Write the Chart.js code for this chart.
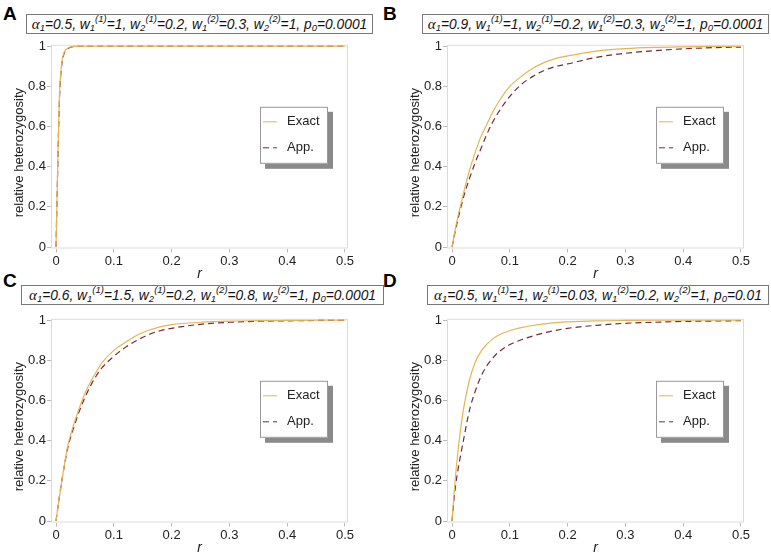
<!DOCTYPE html>
<html>
<head>
<meta charset="utf-8">
<script src="https://cdn.jsdelivr.net/npm/chart.js@4.4.1/dist/chart.umd.min.js"></script>
<style>
  body { margin: 0; background: #fff; }
  #wrap { position: relative; width: 771px; height: 558px; overflow: hidden; font-family: "Liberation Sans", Arial, sans-serif; }
  .letter { position: absolute; font-weight: bold; font-size: 19px; line-height: 19px; color: #000; }
  .ptitle { position: absolute; height: 18px; border: 1px solid #777; background: #fff;
            font-style: italic; font-size: 13.8px; color: #111; display: flex; align-items: center; justify-content: center; white-space: nowrap; }
  .ptitle .al { font-family: "Liberation Serif", serif; font-size: 15px; }
  .ptitle sub, .ptitle sup { font-size: 9.5px; position: relative; vertical-align: baseline; }
  .ptitle sub { top: 3px; }
  .ptitle sup { top: -6px; }
  canvas { position: absolute; }
</style>
</head>
<body>
<div id="wrap">
  <div class="letter" style="left:3px;top:4px;">A</div>
  <div class="letter" style="left:383px;top:4px;">B</div>
  <div class="letter" style="left:3px;top:271px;">C</div>
  <div class="letter" style="left:383px;top:271px;">D</div>

  <div class="ptitle" style="left:26px;top:14px;width:345px;"><span class="al">α</span><sub>1</sub>=0.5, w<sub>1</sub><sup>(1)</sup>=1, w<sub>2</sub><sup>(1)</sup>=0.2, w<sub>1</sub><sup>(2)</sup>=0.3, w<sub>2</sub><sup>(2)</sup>=1, p<sub>0</sub>=0.0001</div>
  <div class="ptitle" style="left:422px;top:14px;width:345px;"><span class="al">α</span><sub>1</sub>=0.9, w<sub>1</sub><sup>(1)</sup>=1, w<sub>2</sub><sup>(1)</sup>=0.2, w<sub>1</sub><sup>(2)</sup>=0.3, w<sub>2</sub><sup>(2)</sup>=1, p<sub>0</sub>=0.0001</div>
  <div class="ptitle" style="left:21px;top:285px;width:361px;"><span class="al">α</span><sub>1</sub>=0.6, w<sub>1</sub><sup>(1)</sup>=1.5, w<sub>2</sub><sup>(1)</sup>=0.2, w<sub>1</sub><sup>(2)</sup>=0.8, w<sub>2</sub><sup>(2)</sup>=1, p<sub>0</sub>=0.0001</div>
  <div class="ptitle" style="left:427px;top:285px;width:340px;"><span class="al">α</span><sub>1</sub>=0.5, w<sub>1</sub><sup>(1)</sup>=1, w<sub>2</sub><sup>(1)</sup>=0.03, w<sub>1</sub><sup>(2)</sup>=0.2, w<sub>2</sub><sup>(2)</sup>=1, p<sub>0</sub>=0.01</div>

  <canvas id="cA" style="left:0px;top:36px;"></canvas>
  <canvas id="cB" style="left:396px;top:36px;"></canvas>
  <canvas id="cC" style="left:0px;top:310px;"></canvas>
  <canvas id="cD" style="left:396px;top:310px;"></canvas>
</div>
<script>
// axis ticks
const xTicks = [0, 0.1, 0.2, 0.3, 0.4, 0.5];
const xTickLabels = ['0', '0.1', '0.2', '0.3', '0.4', '0.5'];
const yTicks = [0, 0.2, 0.4, 0.6, 0.8, 1];
const yTickLabels = ['0', '0.2', '0.4', '0.6', '0.8', '1'];
const seriesNames = ['Exact', 'App.'];

// panel A (very steep rise)
const rA     = [0, 0.001, 0.002, 0.003, 0.004, 0.005, 0.006, 0.008, 0.01, 0.012, 0.015, 0.02, 0.025, 0.03, 0.05, 0.1, 0.2, 0.3, 0.4, 0.5];
const exactA = [0, 0.14, 0.28, 0.42, 0.55, 0.66, 0.76, 0.86, 0.92, 0.95, 0.975, 0.99, 0.997, 0.999, 1, 1, 1, 1, 1, 1];
const appA   = [0, 0.14, 0.27, 0.40, 0.53, 0.64, 0.74, 0.85, 0.91, 0.945, 0.97, 0.987, 0.995, 0.998, 1, 1, 1, 1, 1, 1];

// panels B, C, D share one r grid
const r      = [0, 0.005, 0.01, 0.015, 0.02, 0.03, 0.04, 0.05, 0.06, 0.07, 0.08, 0.1, 0.12, 0.14, 0.16, 0.18, 0.2, 0.25, 0.3, 0.35, 0.4, 0.45, 0.5];
const exactB = [0, 0.08, 0.15, 0.21, 0.27, 0.38, 0.47, 0.55, 0.61, 0.67, 0.72, 0.80, 0.85, 0.89, 0.92, 0.94, 0.952, 0.976, 0.988, 0.994, 0.997, 0.999, 1];
const appB   = [0, 0.07, 0.135, 0.195, 0.25, 0.34, 0.42, 0.49, 0.56, 0.62, 0.67, 0.75, 0.81, 0.85, 0.88, 0.90, 0.912, 0.945, 0.965, 0.978, 0.987, 0.993, 0.996];
const exactC = [0, 0.105, 0.2, 0.29, 0.37, 0.475, 0.56, 0.635, 0.695, 0.745, 0.79, 0.85, 0.89, 0.925, 0.95, 0.967, 0.978, 0.99, 0.996, 0.998, 0.999, 1, 1];
const appC   = [0, 0.105, 0.2, 0.285, 0.36, 0.46, 0.545, 0.615, 0.675, 0.725, 0.765, 0.82, 0.865, 0.9, 0.928, 0.948, 0.96, 0.98, 0.99, 0.995, 0.997, 0.999, 1];
const exactD = [0, 0.19, 0.34, 0.46, 0.56, 0.70, 0.79, 0.845, 0.88, 0.906, 0.925, 0.948, 0.963, 0.974, 0.982, 0.988, 0.992, 0.997, 0.999, 1, 1, 1, 1];
const appD   = [0, 0.15, 0.25, 0.33, 0.405, 0.55, 0.645, 0.72, 0.772, 0.81, 0.84, 0.879, 0.903, 0.922, 0.938, 0.95, 0.96, 0.975, 0.985, 0.99, 0.994, 0.996, 0.998];

const exactColor = '#e8b450';
const appColor = '#742a3c';
const frameColor = '#dcdcdc';
const textColor = '#222';

function pairs(xs, ys) {
  return xs.map((x, i) => ({ x: x, y: ys[i] }));
}

// light frame round the plot area
const framePlugin = {
  id: 'frame',
  beforeDatasetsDraw(chart) {
    const a = chart.chartArea, ctx = chart.ctx;
    ctx.save();
    ctx.strokeStyle = frameColor;
    ctx.lineWidth = 1;
    ctx.strokeRect(a.left + 0.5, a.top + 0.5, a.right - a.left - 1, a.bottom - a.top - 1);
    ctx.restore();
  }
};

// rotated y label, a bit below the centre as in the original
const yLabelPlugin = {
  id: 'ylabel',
  afterDraw(chart) {
    const a = chart.chartArea, ctx = chart.ctx;
    ctx.save();
    ctx.translate(19, (a.top + a.bottom) / 2 + 6);
    ctx.rotate(-Math.PI / 2);
    ctx.font = '13px "Liberation Sans", Arial, sans-serif';
    ctx.fillStyle = textColor;
    ctx.textAlign = 'center';
    ctx.textBaseline = 'middle';
    ctx.fillText('relative heterozygosity', 0, 0);
    ctx.restore();
  }
};

// boxed legend with a drop shadow inside the plot
const boxLegendPlugin = {
  id: 'boxLegend',
  afterDraw(chart) {
    const a = chart.chartArea, ctx = chart.ctx;
    const bx = a.left + 209, by = a.top + 62, bw = 68, bh = 57;
    ctx.save();
    ctx.fillStyle = '#8a8a8a';
    ctx.fillRect(bx + 5, by + 5, bw, bh);
    ctx.fillStyle = '#fff';
    ctx.fillRect(bx, by, bw, bh);
    ctx.strokeStyle = '#999';
    ctx.lineWidth = 1;
    ctx.strokeRect(bx + 0.5, by + 0.5, bw - 1, bh - 1);
    ctx.font = '13px "Liberation Sans", Arial, sans-serif';
    ctx.textBaseline = 'middle';
    chart.data.datasets.forEach((ds, i) => {
      const ly = by + 15 + i * 26;
      ctx.strokeStyle = ds.borderColor;
      ctx.lineWidth = 1;
      ctx.setLineDash(ds.borderDash || []);
      ctx.beginPath();
      ctx.moveTo(bx + 3, ly);
      ctx.lineTo(bx + 17, ly);
      ctx.stroke();
      ctx.setLineDash([]);
      ctx.fillStyle = textColor;
      ctx.fillText(ds.label, bx + 27, ly);
    });
    ctx.restore();
  }
};

function makeChart(id, xs, exact, app) {
  const cv = document.getElementById(id);
  cv.style.width = '385px';
  cv.style.height = '250px';
  return new Chart(cv.getContext('2d'), {
    type: 'line',
    data: {
      datasets: [
        {
          label: seriesNames[0],
          data: pairs(xs, exact),
          borderColor: exactColor,
          borderWidth: 1.2,
          pointRadius: 0,
          cubicInterpolationMode: 'monotone'
        },
        {
          label: seriesNames[1],
          data: pairs(xs, app),
          borderColor: appColor,
          borderWidth: 1.2,
          borderDash: [6, 4],
          pointRadius: 0,
          cubicInterpolationMode: 'monotone'
        }
      ]
    },
    options: {
      responsive: false,
      animation: false,
      devicePixelRatio: 1,
      layout: { padding: { top: 4.5, right: 37, left: 0, bottom: 0 } },
      plugins: { legend: { display: false }, tooltip: { enabled: false } },
      scales: {
        x: {
          type: 'linear',
          min: -0.0087,
          max: 0.5052,
          afterBuildTicks: s => { s.ticks = xTicks.map(v => ({ value: v })); },
          afterFit: s => { s.height = 37.5; },
          ticks: {
            color: textColor,
            font: { size: 13, family: '"Liberation Sans", Arial, sans-serif' },
            padding: 1,
            maxRotation: 0,
            callback: (v, i) => xTickLabels[i]
          },
          grid: { drawOnChartArea: false, tickLength: 4, tickColor: '#bbb' },
          border: { display: false },
          title: {
            display: true,
            text: 'r',
            color: textColor,
            font: { size: 14, style: 'italic', family: '"Liberation Sans", Arial, sans-serif' },
            padding: { top: 0, bottom: 3 }
          }
        },
        y: {
          type: 'linear',
          min: -0.0073,
          max: 1.0073,
          afterBuildTicks: s => { s.ticks = yTicks.map(v => ({ value: v })); },
          afterFit: s => { s.width = 51; },
          ticks: {
            color: textColor,
            font: { size: 13, family: '"Liberation Sans", Arial, sans-serif' },
            padding: 1,
            callback: (v, i) => yTickLabels[i]
          },
          grid: { drawOnChartArea: false, tickLength: 4, tickColor: '#bbb' },
          border: { display: false }
        }
      }
    },
    plugins: [framePlugin, yLabelPlugin, boxLegendPlugin]
  });
}

makeChart('cA', rA, exactA, appA);
makeChart('cB', r, exactB, appB);
makeChart('cC', r, exactC, appC);
makeChart('cD', r, exactD, appD);
</script>
</body>
</html>
